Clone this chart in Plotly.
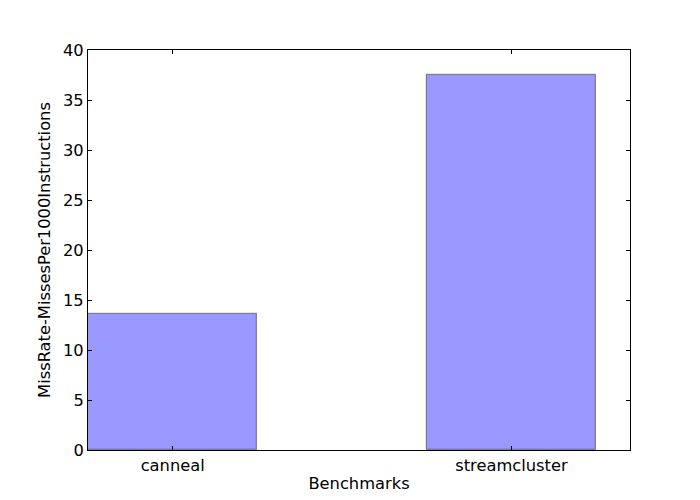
import plotly.graph_objects as go

categories = ["canneal", "streamcluster"]
values = [13.6, 37.5]
positions = [0, 1]

fig = go.Figure()
fig.add_trace(go.Bar(
    x=positions, y=values, width=0.5,
    marker=dict(color="rgba(0,0,255,0.4)", line=dict(color="rgba(0,0,0,0.4)", width=1.2)),
))
font = dict(family="DejaVu Sans", size=16.3, color="black")
axis_common = dict(showline=True, linecolor="black", linewidth=1, mirror="ticks",
                   ticks="inside", ticklen=4, tickcolor="black", showgrid=False, zeroline=False,
                   tickfont=font)
fig.update_layout(
    width=700, height=500,
    margin=dict(l=80, r=78, t=42, b=58),
    plot_bgcolor="white", paper_bgcolor="white",
    showlegend=False, font=font, bargap=0,
    xaxis=dict(range=[-0.25, 1.35], tickvals=positions, ticktext=categories,
               title=dict(text="Benchmarks", font=font, standoff=4), **axis_common),
    yaxis=dict(range=[0, 40], tickvals=[0, 5, 10, 15, 20, 25, 30, 35, 40],
               title=dict(text="MissRate-MissesPer1000Instructions", font=font, standoff=8),
               **axis_common),
)
fig.write_html("out.html")
